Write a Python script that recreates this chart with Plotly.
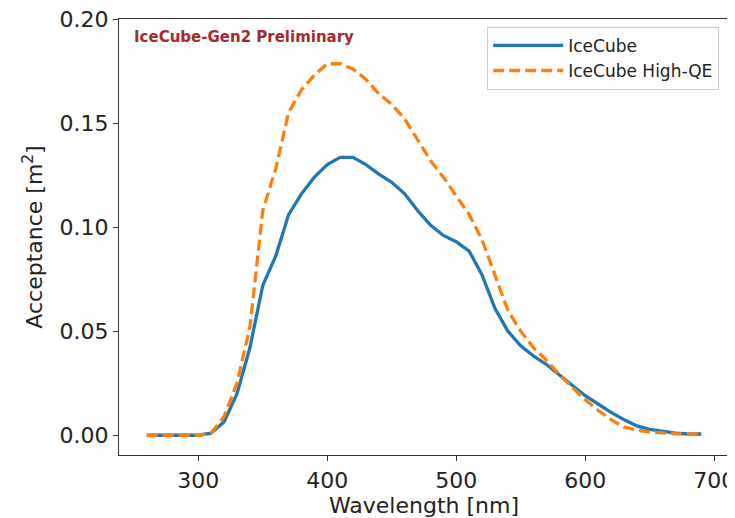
import plotly.graph_objects as go

wavelength = [260, 270, 280, 290, 300, 310, 320, 330, 340, 350, 360, 370, 380, 390, 400,
              410, 420, 430, 440, 450, 460, 470, 480, 490, 500, 510, 520, 530, 540, 550,
              560, 570, 580, 590, 600, 610, 620, 630, 640, 650, 660, 670, 680, 690]

icecube = [0.0, 0.0, 0.0, 0.0, 0.0, 0.001, 0.0065, 0.020, 0.042, 0.072, 0.086, 0.106, 0.116, 0.124, 0.130,
           0.1335, 0.1335, 0.130, 0.1255, 0.1215, 0.116, 0.108, 0.101, 0.096, 0.093, 0.0885, 0.077, 0.061, 0.050, 0.043,
           0.038, 0.034, 0.029, 0.024, 0.019, 0.015, 0.011, 0.0075, 0.0045, 0.0028, 0.0017, 0.001, 0.0006, 0.0006]

icecube_hqe = [0.0, 0.0, 0.0, 0.0, 0.0, 0.001, 0.009, 0.025, 0.052, 0.108, 0.128, 0.155, 0.166, 0.173, 0.1785,
               0.1785, 0.176, 0.171, 0.164, 0.159, 0.152, 0.142, 0.132, 0.124, 0.115, 0.106, 0.094, 0.077, 0.060, 0.050,
               0.042, 0.036, 0.029, 0.023, 0.017, 0.012, 0.0075, 0.004, 0.0025, 0.0015, 0.001, 0.0007, 0.0006, 0.0006]

series_names = ["IceCube", "IceCube High-QE"]
x_ticks = [300, 400, 500, 600, 700]
y_ticks = [0.00, 0.05, 0.10, 0.15, 0.20]
y_tick_labels = ["0.00", "0.05", "0.10", "0.15", "0.20"]

fig = go.Figure()
fig.add_trace(go.Scatter(x=wavelength, y=icecube, mode="lines", name=series_names[0],
                         line=dict(color="#1f77b4", width=3.3)))
fig.add_trace(go.Scatter(x=wavelength, y=icecube_hqe, mode="lines", name=series_names[1],
                         line=dict(color="#ff7f0e", width=3.3, dash="11px,5px")))

axis_common = dict(showgrid=False, zeroline=False, showline=True, linecolor="#333333", linewidth=1.2,
                   mirror=True, ticks="outside", ticklen=5, tickwidth=1.2, tickcolor="#333333",
                   automargin=False, ticklabeloverflow="allow",
                   tickfont=dict(family="DejaVu Sans", size=22, color="#222222"))

fig.update_layout(
    width=727, height=510,
    margin=dict(l=111, r=6, t=11, b=63),
    paper_bgcolor="white", plot_bgcolor="white",
    font=dict(family="DejaVu Sans", color="#222222"),
    xaxis=dict(range=[238.5, 711.5], tickvals=x_ticks,
               title=dict(text="Wavelength [nm]", font=dict(size=22), standoff=6), **axis_common),
    yaxis=dict(range=[-0.0095, 0.2], tickvals=y_ticks, ticktext=y_tick_labels,
               title=dict(text="Acceptance [m<sup>2</sup>]", font=dict(size=22), standoff=10), **axis_common),
    legend=dict(x=0.984, y=0.982, xanchor="right", yanchor="top",
                bgcolor="rgba(255,255,255,0.8)", bordercolor="#cccccc", borderwidth=1,
                font=dict(family="DejaVu Sans", size=17, color="#222222"),
                itemwidth=70, tracegroupgap=3),
    showlegend=True,
    annotations=[dict(text="<b>IceCube-Gen2 Preliminary</b>", xref="paper", yref="paper",
                      x=0.021, y=0.985, xanchor="left", yanchor="top", showarrow=False,
                      font=dict(family="DejaVu Sans", size=15, color="#a52a2a"))],
)

fig.write_html("out.html")
